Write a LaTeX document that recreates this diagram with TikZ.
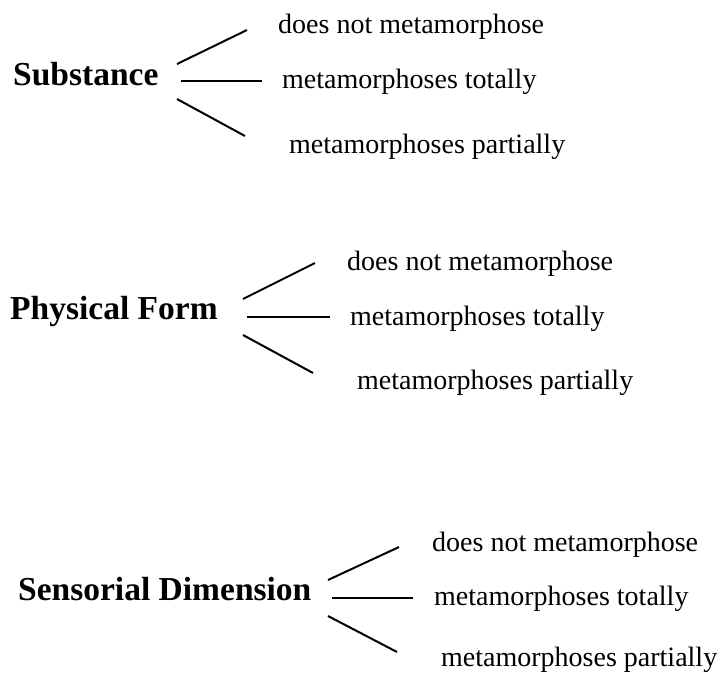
\documentclass[tikz,border=0pt]{standalone}
\usepackage{fontspec}
\setmainfont{Liberation Serif}
\begin{document}
\begin{tikzpicture}[x=1pt,y=-1pt,
  head/.style={anchor=base west,inner sep=0pt,font=\fontsize{33.5}{40}\selectfont\bfseries},
  opt/.style={anchor=base west,inner sep=0pt,font=\fontsize{28}{34}\selectfont},
  branch/.style={line width=2pt}]
\useasboundingbox (0,0) rectangle (724,673);
% Group 1
\node[head] (h1) at (13,85) {Substance};
\node[opt] (a1) at (278,33) {does not metamorphose};
\node[opt] (b1) at (282,88) {metamorphoses totally};
\node[opt] (c1) at (289,153) {metamorphoses partially};
\coordinate (h1u) at (177,64); \coordinate (a1e) at (247,30);
\coordinate (h1m) at (181,81); \coordinate (b1e) at (262,81);
\coordinate (h1d) at (177,99); \coordinate (c1e) at (245,136);
\draw[branch] (h1u) -- (a1e);
\draw[branch] (h1m) -- (b1e);
\draw[branch] (h1d) -- (c1e);
% Group 2
\node[head] (h2) at (10,319) {Physical Form};
\node[opt] (a2) at (347,270) {does not metamorphose};
\node[opt] (b2) at (350,325) {metamorphoses totally};
\node[opt] (c2) at (357,389) {metamorphoses partially};
\coordinate (h2u) at (243,299); \coordinate (a2e) at (315,263);
\coordinate (h2m) at (247,317); \coordinate (b2e) at (330,317);
\coordinate (h2d) at (243,335); \coordinate (c2e) at (313,373);
\draw[branch] (h2u) -- (a2e);
\draw[branch] (h2m) -- (b2e);
\draw[branch] (h2d) -- (c2e);
% Group 3
\node[head] (h3) at (18,600) {Sensorial Dimension};
\node[opt] (a3) at (432,551) {does not metamorphose};
\node[opt] (b3) at (434,605) {metamorphoses totally};
\node[opt] (c3) at (441,666) {metamorphoses partially};
\coordinate (h3u) at (328,580); \coordinate (a3e) at (399,547);
\coordinate (h3m) at (332,598); \coordinate (b3e) at (413,598);
\coordinate (h3d) at (328,616); \coordinate (c3e) at (397,652);
\draw[branch] (h3u) -- (a3e);
\draw[branch] (h3m) -- (b3e);
\draw[branch] (h3d) -- (c3e);
\end{tikzpicture}
\end{document}
